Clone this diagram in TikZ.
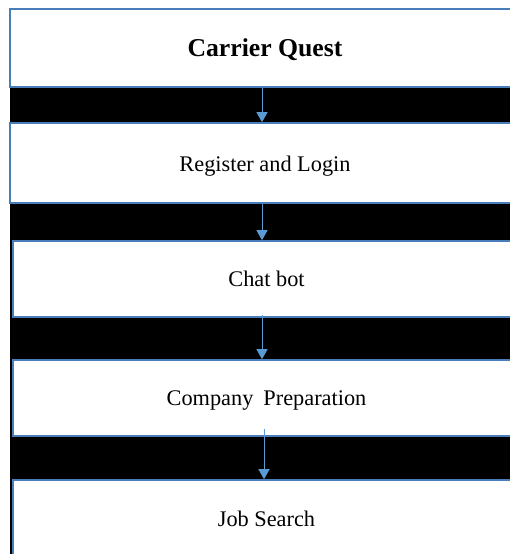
\documentclass[tikz,border=0pt]{standalone}
\usepackage{fontspec}
\setmainfont{Liberation Serif}
\usetikzlibrary{arrows.meta}
\definecolor{boxline}{HTML}{4A7EBB}
\definecolor{arrowblue}{HTML}{5B9BD5}
\tikzset{
  stagebox/.style={draw=boxline, line width=1.6bp, fill=white, minimum width=507bp, inner sep=0pt, text height=15.8bp, text depth=0pt, font=\fontsize{22.4}{26}\selectfont},
  flowarrow/.style={draw=arrowblue, line width=1bp, -{Triangle[width=11bp,length=10bp]}}
}
\begin{document}
\begin{tikzpicture}[x=1bp,y=-1bp]
\useasboundingbox (0,0) rectangle (510,554);
\clip (0,0) rectangle (510,554);
\fill[white] (0,0) rectangle (510,554);
\fill[black] (10,87) rectangle (515,560);
\node[stagebox, minimum width=510bp, minimum height=78bp, text height=18bp, font=\fontsize{25.8}{30}\selectfont\bfseries] (b1) at (265,48) {Carrier Quest};
\node[stagebox, minimum width=510bp, minimum height=80bp, text height=17.8bp] (b2) at (265,163) {Register and Login};
\node[stagebox, minimum height=76bp] (b3) at (266.5,279) {Chat bot};
\node[stagebox, minimum height=76bp] (b4) at (266.5,398) {Company\hspace{0.45em}Preparation};
\node[stagebox, minimum height=78bp] (b5) at (266.5,519) {Job Search};
\coordinate (ax) at (262,0);
\coordinate (bx) at (264,0);
\draw[flowarrow] (b1.south -| ax) -- (b2.north -| ax);
\draw[flowarrow] (b2.south -| ax) -- (b3.north -| ax);
\draw[flowarrow] ([yshift=3bp]b3.south -| ax) -- (b4.north -| ax);
\draw[flowarrow] ([yshift=8bp]b4.south -| bx) -- (b5.north -| bx);
\end{tikzpicture}
\end{document}
